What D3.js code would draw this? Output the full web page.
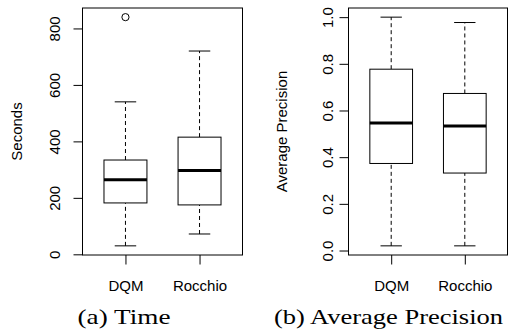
<!DOCTYPE html>
<html><head><meta charset="utf-8">
<script src="https://cdn.jsdelivr.net/npm/d3@7"></script>
<style>body{margin:0;background:#fff}</style>
</head><body>
<div id="chart"></div>
<script>
const groups = ['DQM', 'Rocchio']
// [lower whisker, Q1, median, Q3, upper whisker]
const timeStats = [[30, 182, 264, 334, 540], [72, 175, 297, 415, 720]]
const timeOutliers = [[840], []]
const timeTicks = [0, 200, 400, 600, 800]
const apStats = [[0.02, 0.373, 0.546, 0.777, 1.0], [0.02, 0.332, 0.534, 0.673, 0.977]]
const apOutliers = [[], []]
const apTicks = [0, 0.2, 0.4, 0.6, 0.8, 1.0]

const svg = d3.select('#chart').append('svg')
  .attr('width', 508)
  .attr('height', 331)
  .attr('font-family', '"Liberation Sans", Arial, sans-serif')

function panel(p) {
  const g = svg.append('g')
  // R style: 4% padding around the data range
  const all = p.stats.flat().concat(p.outliers.flat())
  const [lo, hi] = d3.extent(all)
  const pad = (hi - lo) * 0.04
  const y = d3.scaleLinear().domain([lo - pad, hi + pad]).range([p.bottom, p.top])
  const x = d3.scaleLinear().domain([0.42, 2.58]).range([p.left, p.right])
  const half = 0.29, cap = 0.145

  // frame
  g.append('rect')
    .attr('x', p.left).attr('y', p.top)
    .attr('width', p.right - p.left).attr('height', p.bottom - p.top)
    .attr('fill', 'none').attr('stroke', '#000')

  // y axis
  const yAxis = g.append('g').attr('transform', `translate(${p.left},0)`)
    .call(d3.axisLeft(y).tickValues(p.ticks).tickSize(9).tickFormat(p.fmt))
  yAxis.select('.domain').remove()
  yAxis.selectAll('.tick line').attr('stroke', '#000')
  yAxis.selectAll('.tick text')
    .attr('x', 0).attr('dy', null)
    .attr('transform', `translate(${p.tickLabelX - p.left + 5.5},0) rotate(-90)`)
    .attr('text-anchor', 'middle')
    .attr('font-size', 15).attr('fill', '#000')
    .attr('font-family', '"Liberation Sans", Arial, sans-serif')

  // x axis
  const xAxis = g.append('g').attr('transform', `translate(0,${p.bottom})`)
    .call(d3.axisBottom(x).tickValues([1, 2]).tickSize(9.5).tickFormat((d, i) => groups[i]))
  xAxis.select('.domain').remove()
  xAxis.selectAll('.tick line').attr('stroke', '#000')
  xAxis.selectAll('.tick text')
    .attr('y', 35.5).attr('dy', null)
    .attr('font-size', 15).attr('fill', '#000')
    .attr('font-family', '"Liberation Sans", Arial, sans-serif')

  // axis title
  g.append('text')
    .attr('transform', `translate(${p.titleX + 5.5},${(p.top + p.bottom) / 2}) rotate(-90)`)
    .attr('text-anchor', 'middle')
    .attr('font-size', 15)
    .text(p.title)

  const boxes = g.selectAll('.box').data(p.stats).enter().append('g').attr('class', 'box')
  // whiskers
  boxes.append('line')
    .attr('x1', (d, i) => x(i + 1)).attr('x2', (d, i) => x(i + 1))
    .attr('y1', d => y(d[3])).attr('y2', d => y(d[4]))
    .attr('stroke', '#000').attr('stroke-dasharray', '4,3')
  boxes.append('line')
    .attr('x1', (d, i) => x(i + 1)).attr('x2', (d, i) => x(i + 1))
    .attr('y1', d => y(d[0])).attr('y2', d => y(d[1]))
    .attr('stroke', '#000').attr('stroke-dasharray', '4,3')
  // staples
  boxes.selectAll('.staple').data((d, i) => [[i, d[0]], [i, d[4]]]).enter().append('line')
    .attr('x1', d => x(d[0] + 1 - cap)).attr('x2', d => x(d[0] + 1 + cap))
    .attr('y1', d => y(d[1])).attr('y2', d => y(d[1]))
    .attr('stroke', '#000')
  // box
  boxes.append('rect')
    .attr('x', (d, i) => x(i + 1 - half))
    .attr('width', x(1 + half) - x(1 - half))
    .attr('y', d => y(d[3]))
    .attr('height', d => y(d[1]) - y(d[3]))
    .attr('fill', '#fff').attr('stroke', '#000')
  // median
  boxes.append('line')
    .attr('x1', (d, i) => x(i + 1 - half)).attr('x2', (d, i) => x(i + 1 + half))
    .attr('y1', d => y(d[2])).attr('y2', d => y(d[2]))
    .attr('stroke', '#000').attr('stroke-width', 3)
  // outliers
  g.selectAll('.out').data(p.outliers.flatMap((o, i) => o.map(v => [i, v]))).enter()
    .append('circle')
    .attr('cx', d => x(d[0] + 1)).attr('cy', d => y(d[1]))
    .attr('r', 3.6).attr('fill', 'none').attr('stroke', '#000')

  // caption
  svg.append('text')
    .attr('x', p.captionX).attr('y', 323.5)
    .attr('text-anchor', 'middle')
    .attr('font-family', '"Liberation Serif", "DejaVu Serif", serif')
    .attr('font-size', 21)
    .attr('textLength', p.captionW).attr('lengthAdjust', 'spacingAndGlyphs')
    .text(p.caption)
}

panel({
  left: 82.5, right: 242.5, top: 8, bottom: 255,
  stats: timeStats, outliers: timeOutliers, ticks: timeTicks, fmt: d3.format('d'),
  title: 'Seconds', titleX: 16, tickLabelX: 54,
  caption: '(a) Time', captionX: 124, captionW: 93
})
panel({
  left: 348.5, right: 507.5, top: 8, bottom: 255,
  stats: apStats, outliers: apOutliers, ticks: apTicks, fmt: d3.format('.1f'),
  title: 'Average Precision', titleX: 281.5, tickLabelX: 327.5,
  caption: '(b) Average Precision', captionX: 388.5, captionW: 229
})
</script>
</body></html>
